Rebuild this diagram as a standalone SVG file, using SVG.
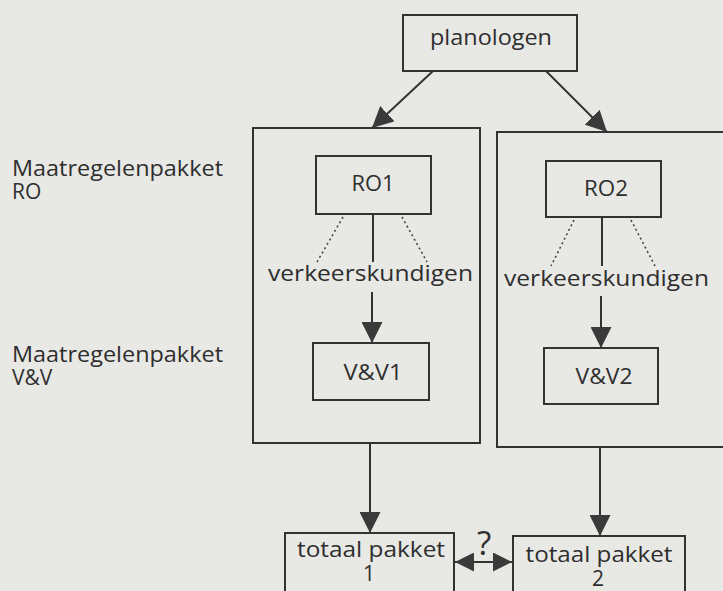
<svg xmlns="http://www.w3.org/2000/svg" width="723" height="591" viewBox="0 0 723 591">
<style>
.bg{fill:#e8e8e5}
.box{fill:none;stroke:#333;stroke-width:2}
.ln{fill:none;stroke:#333;stroke-width:2}
.dot{fill:none;stroke:#444;stroke-width:1.6;stroke-dasharray:2 3}
text{font-family:"Open Sans","Noto Sans","DejaVu Sans",sans-serif;fill:#2e2e2e}
.t{font-size:21px}
.c{text-anchor:middle}
</style>
<defs>
<marker id="ah" viewBox="0 0 20 20" refX="20" refY="10" markerWidth="21" markerHeight="21" markerUnits="userSpaceOnUse" orient="auto-start-reverse">
<path d="M0,0 L20,10 L0,20 z" fill="#3a3a3a"/>
</marker>
<marker id="ahs" viewBox="0 0 20 20" refX="20" refY="10" markerWidth="19" markerHeight="19" markerUnits="userSpaceOnUse" orient="auto-start-reverse">
<path d="M0,0 L20,10 L0,20 z" fill="#3a3a3a"/>
</marker>
</defs>
<rect class="bg" x="0" y="0" width="723" height="591"/>

<g id="labels">
<text class="t" x="12" y="176" textLength="211" lengthAdjust="spacingAndGlyphs">Maatregelenpakket</text>
<text class="t" x="12" y="199">RO</text>
<text class="t" x="12" y="362" textLength="211" lengthAdjust="spacingAndGlyphs">Maatregelenpakket</text>
<text class="t" x="12" y="385">V&amp;V</text>
</g>

<g id="group-left">
<rect class="box" x="253" y="128" width="227" height="315"/>
</g>
<g id="group-right">
<rect class="box" x="497" y="132" width="240" height="315"/>
</g>

<g id="planologen">
<rect class="box" x="403" y="15" width="174" height="56"/>
<text class="t c" x="491" y="45" textLength="122" lengthAdjust="spacingAndGlyphs">planologen</text>
</g>

<g id="RO1">
<rect class="box" x="316" y="156" width="115" height="58"/>
<text class="t c" x="373" y="191" textLength="43" lengthAdjust="spacingAndGlyphs">RO1</text>
</g>
<g id="RO2">
<rect class="box" x="546" y="161" width="115" height="56"/>
<text class="t c" x="606" y="196" textLength="44" lengthAdjust="spacingAndGlyphs">RO2</text>
</g>

<g id="verkeerskundigen1">
<text class="t" x="268" y="281" textLength="205" lengthAdjust="spacingAndGlyphs">verkeerskundigen</text>
</g>
<g id="verkeerskundigen2">
<text class="t" x="504" y="286" textLength="205" lengthAdjust="spacingAndGlyphs">verkeerskundigen</text>
</g>

<g id="VV1">
<rect class="box" x="313" y="343" width="116" height="57"/>
<text class="t c" x="373" y="380" textLength="59" lengthAdjust="spacingAndGlyphs">V&amp;V1</text>
</g>
<g id="VV2">
<rect class="box" x="544" y="348" width="114" height="56"/>
<text class="t c" x="604" y="384" textLength="57" lengthAdjust="spacingAndGlyphs">V&amp;V2</text>
</g>

<g id="totaal1">
<rect class="box" x="285" y="533" width="169" height="70"/>
<text class="t c" x="371" y="557" textLength="148" lengthAdjust="spacingAndGlyphs">totaal pakket</text>
<text class="t c" x="369" y="581">1</text>
</g>
<g id="totaal2">
<rect class="box" x="513" y="536" width="172" height="70"/>
<text class="t c" x="599" y="562" textLength="147" lengthAdjust="spacingAndGlyphs">totaal pakket</text>
<text class="t c" x="598" y="586">2</text>
</g>

<g id="connectors">
<line class="ln" x1="433" y1="71" x2="372" y2="128" marker-end="url(#ah)"/>
<line class="ln" x1="546" y1="71" x2="607" y2="132" marker-end="url(#ah)"/>
<line class="dot" x1="343" y1="217" x2="317" y2="262"/>
<line class="dot" x1="402" y1="217" x2="427" y2="262"/>
<line class="ln" x1="373" y1="214" x2="373" y2="262"/>
<line class="dot" x1="574" y1="220" x2="551" y2="266"/>
<line class="dot" x1="631" y1="220" x2="655" y2="266"/>
<line class="ln" x1="602" y1="217" x2="602" y2="266"/>
<line class="ln" x1="372" y1="292" x2="372" y2="343" marker-end="url(#ah)"/>
<line class="ln" x1="601" y1="296" x2="601" y2="348" marker-end="url(#ah)"/>
<line class="ln" x1="370" y1="443" x2="370" y2="533" marker-end="url(#ah)"/>
<line class="ln" x1="600" y1="447" x2="600" y2="536" marker-end="url(#ah)"/>
<line class="ln" x1="455" y1="562" x2="512" y2="562" marker-start="url(#ahs)" marker-end="url(#ahs)"/>
<text class="c" x="484" y="555" style="font-size:33px">?</text>
</g>
</svg>
